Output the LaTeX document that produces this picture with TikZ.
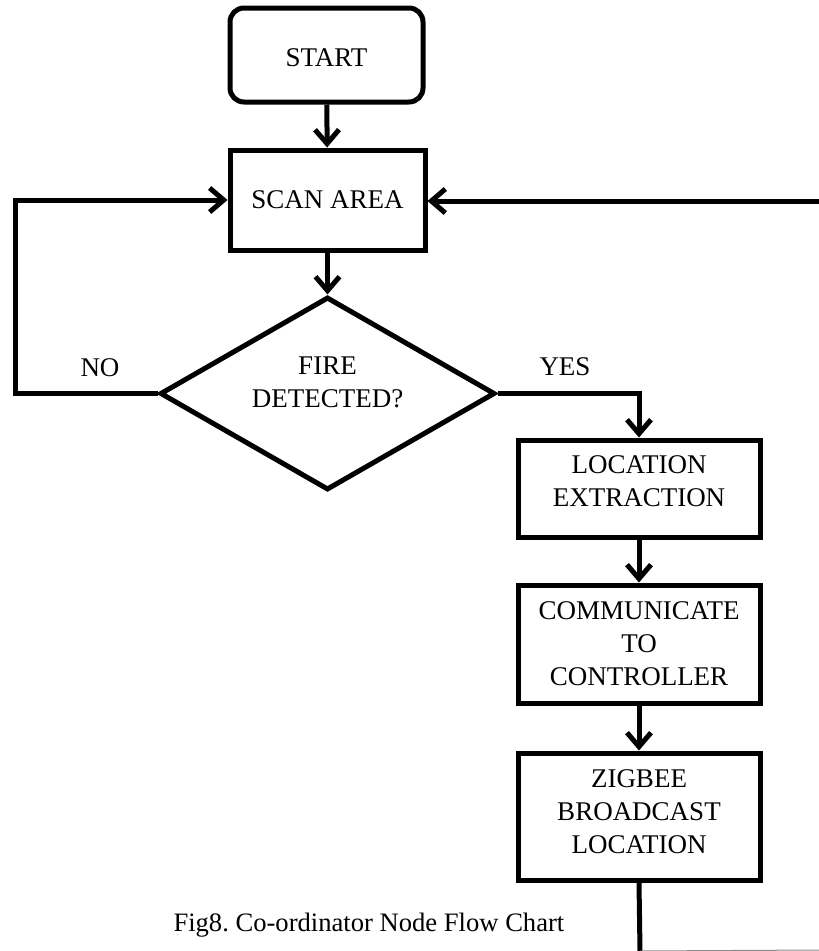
\documentclass[tikz,border=0pt]{standalone}
\usepackage{fontspec}
\setmainfont{Liberation Serif}
\usetikzlibrary{arrows.meta,shapes.geometric}
\frenchspacing

\begin{document}
\begin{tikzpicture}[x=1pt,y=-1pt,
  line width=5pt,
  txt/.style={font=\fontsize{27}{33}\selectfont, align=center, inner sep=0pt},
  procbox/.style={draw, txt, minimum width=242pt, minimum height=#1},
  flow/.style={-{Straight Barb[length=14pt,width=24pt]}}
]
\useasboundingbox (0,0) rectangle (819,951);

% boxes
\node[draw, txt, rounded corners=14pt, minimum width=193pt, minimum height=94pt, text height=24pt] (start) at (326.5,55) {START};
\node[draw, txt, minimum width=195pt, minimum height=100pt] (scan) at (327.5,200) {SCAN AREA};
\node[draw, diamond, aspect=1.74, minimum width=335pt, minimum height=193pt, inner sep=0pt] (dia) at (327.5,393.5) {};
\node[txt] (diatext) at (327.5,382.5) {FIRE\\DETECTED?};
\node[procbox=97pt, text depth=14pt] (loc) at (639,488.5) {LOCATION\\EXTRACTION};
\node[procbox=118pt] (comm) at (639,644) {COMMUNICATE\\TO\\CONTROLLER};
\node[procbox=127pt, text depth=10pt] (zig) at (639,816.5) {ZIGBEE\\BROADCAST\\LOCATION};

% branch labels
\node[txt] (no) at (100,368) {NO};
\node[txt] (yes) at (565,367) {YES};

% caption
\node[txt, font=\fontsize{26.6}{33}\selectfont, anchor=west] (cap) at (171,925) {Fig8. Co-ordinator Node Flow Chart};

% free ends at the picture border
\coordinate (rtop) at (822,201);
\coordinate (bot) at (640,951);
\coordinate (botr) at (819,950);

% connectors
\draw[flow] (start) -- (scan);
\draw[flow] (scan) -- (dia);
\draw[flow] (dia.west) -- (15,393.5) |- (scan.west);
\draw[flow] (dia.east) -| (loc.north);
\draw[flow] (loc) -- (comm);
\draw[flow] (comm) -- (zig);
\draw (zig.south) -- (bot);
\draw[line width=1pt, black!45] (bot) -- (botr);
\draw[flow] (rtop) -- (scan.east |- rtop);
\end{tikzpicture}
\end{document}
